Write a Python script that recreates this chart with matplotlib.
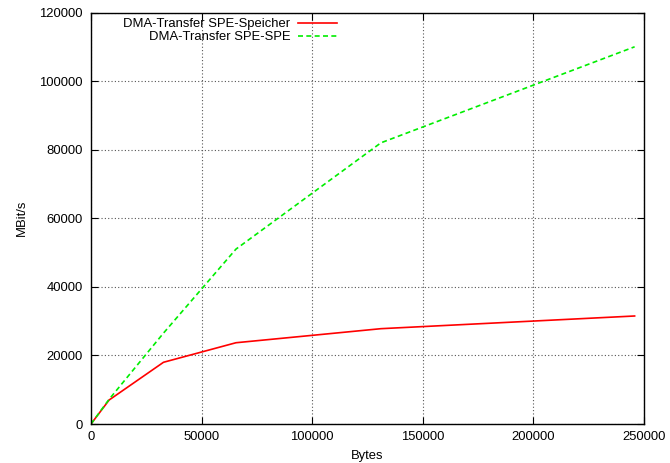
import matplotlib
matplotlib.use("Agg")
import matplotlib.pyplot as plt

plt.rcParams['font.family'] = ['Liberation Sans', 'DejaVu Sans']

# Messwerte
bytes_x = [0, 8192, 32768, 65536, 131072, 245760]
spe_speicher = [0, 7000, 18000, 23700, 27800, 31500]
spe_spe = [0, 7200, 26500, 51000, 82000, 110000]

fig = plt.figure(figsize=(6.7, 4.63), dpi=100)
ax = fig.add_axes([0.1358, 0.0842, 0.8254, 0.8888])

ax.plot(bytes_x, spe_speicher, color='#ff0000', lw=1.2, label='DMA-Transfer SPE-Speicher')
ax.plot(bytes_x, spe_spe, color='#00ee00', lw=1.2, ls=(0, (3, 2)), label='DMA-Transfer SPE-SPE')

ax.set_xlim(0, 250000)
ax.set_ylim(0, 120000)
ax.set_xticks(range(0, 250001, 50000))
ax.set_yticks(range(0, 120001, 20000))
ax.grid(True, ls=(0, (1, 2)), color='#555555', lw=0.8)
ax.tick_params(direction='in', top=True, right=True, labelsize=9.4, length=5)
ax.tick_params(axis='y', pad=6)
ax.tick_params(axis='x', pad=5)
for s in ax.spines.values():
    s.set_linewidth(1.0)

ax.set_xlabel('Bytes', fontsize=9.4, labelpad=5)
ax.set_ylabel('MBit/s', fontsize=9.4, labelpad=8)

leg = ax.legend(loc='upper left', bbox_to_anchor=(0.044, 1.005), frameon=False,
                markerfirst=False, fontsize=9.4, handlelength=3.0,
                labelspacing=0.05, borderaxespad=0.2, handletextpad=0.6)
for t in leg.get_texts():
    t.set_ha('right')
leg._legend_box.align = 'right'

fig.savefig('out.png', dpi=100)
